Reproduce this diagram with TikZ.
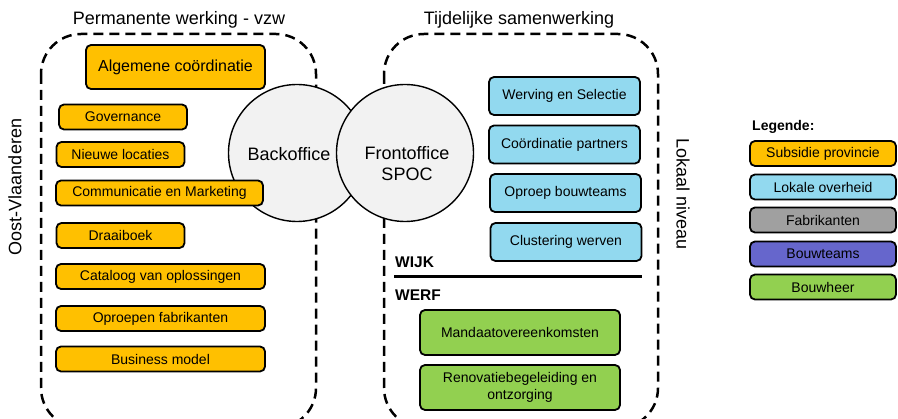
\documentclass[tikz,border=0pt]{standalone}
\usepackage{fontspec}
\setmainfont{Liberation Sans}
\begin{document}
\begin{tikzpicture}[x=1pt,y=-1pt,
  box/.style={draw=black, line width=1.8pt, rounded corners=5pt, inner sep=0pt, align=center, font=\fontsize{14}{16.5}\selectfont},
  obox/.style={box, fill=orgc},
  bbox/.style={box, fill=bluec},
  gbox/.style={box, fill=greenc},
  circ/.style={draw=black, line width=1.4pt, fill=circc, circle, minimum size=137pt, inner sep=0pt, align=center, font=\fontsize{18}{21}\selectfont},
  ctext/.style={inner sep=0pt, align=center, font=\fontsize{18}{21}\selectfont},
  dashbox/.style={draw=black, line width=2.5pt, dash pattern=on 10pt off 6pt, rounded corners=40pt},
  title/.style={font=\fontsize{18}{21}\selectfont, inner sep=0pt},
  lbl/.style={font=\bfseries\fontsize{15.5}{18}\selectfont, inner sep=0pt, anchor=west}
]
\definecolor{orgc}{HTML}{FFC000}
\definecolor{bluec}{HTML}{92D9EF}
\definecolor{greenc}{HTML}{92D050}
\definecolor{grayc}{HTML}{A0A0A0}
\definecolor{purplec}{HTML}{6666CC}
\definecolor{circc}{HTML}{F2F2F2}
\useasboundingbox (0,0) rectangle (898,419);
\begin{scope}
\clip (0,0) rectangle (898,419);
\draw[dashbox] (41,34) rectangle (316,428);
\draw[dashbox] (384,34) rectangle (658,428);
\end{scope}

\node[title] (t1) at (179,20) {Permanente werking - vzw};
\node[title] (t2) at (519,20) {Tijdelijke samenwerking};
\node[title, rotate=90] (ov) at (15,187) {Oost-Vlaanderen};
\node[title, rotate=-90] (ln) at (683,194) {Lokaal niveau};

\node[circ] (back) at (297,153) {};
\node[ctext] (backlbl) at (289,154) {Backoffice};
\node[circ] (front) at (405,153) {};
\node[ctext] (frontlbl) at (407,164) {Frontoffice\\SPOC};

\node[obox, minimum width=179pt, minimum height=44pt, font=\fontsize{16}{19}\selectfont] (alg) at (175.5,67) {Algemene coördinatie};
\node[obox, minimum width=128pt, minimum height=25pt] (gov) at (123,117) {Governance};
\node[obox, minimum width=128pt, minimum height=25pt] (nl) at (120.5,154.5) {Nieuwe locaties};
\node[obox, minimum width=207pt, minimum height=25pt] (com) at (159.5,193) {Communicatie en Marketing};
\node[obox, minimum width=128pt, minimum height=25pt] (dra) at (120.5,235.5) {Draaiboek};
\node[obox, minimum width=209pt, minimum height=25pt] (cat) at (160.5,276.5) {Cataloog van oplossingen};
\node[obox, minimum width=209pt, minimum height=25pt] (opf) at (160.5,318.5) {Oproepen fabrikanten};
\node[obox, minimum width=209pt, minimum height=25pt] (bus) at (160.5,359) {Business model};

\node[bbox, minimum width=151pt, minimum height=38pt] (wer) at (564.5,96) {Werving en Selectie};
\node[bbox, minimum width=151pt, minimum height=38pt] (coo) at (564.5,144.5) {Coördinatie partners};
\node[bbox, minimum width=151pt, minimum height=38pt] (opb) at (565.5,193) {Oproep bouwteams};
\node[bbox, minimum width=151pt, minimum height=38pt] (clu) at (566,242) {Clustering werven};

\node[lbl] (wijk) at (395,262) {WIJK};
\coordinate (la) at (394,277);
\coordinate (lb) at (642,277);
\draw[line width=3pt] (la) -- (lb);
\node[lbl] (werf) at (395,295) {WERF};

\node[gbox, minimum width=200pt, minimum height=45pt] (man) at (520,332.5) {Mandaatovereenkomsten};
\node[gbox, minimum width=200pt, minimum height=45pt] (ren) at (520,387.5) {Renovatiebegeleiding en\\ontzorging};

\node[lbl, font=\bfseries\fontsize{14}{16}\selectfont] (leg) at (752,127) {Legende:};
\node[obox, minimum width=146pt, minimum height=25pt] (l1) at (823,153.5) {Subsidie provincie};
\node[bbox, minimum width=146pt, minimum height=25pt] (l2) at (823,187) {Lokale overheid};
\node[box, fill=grayc, minimum width=146pt, minimum height=25pt] (l3) at (823,220) {Fabrikanten};
\node[box, fill=purplec, minimum width=146pt, minimum height=25pt] (l4) at (823,254) {Bouwteams};
\node[gbox, minimum width=146pt, minimum height=25pt] (l5) at (823,287) {Bouwheer};
\end{tikzpicture}
\end{document}
